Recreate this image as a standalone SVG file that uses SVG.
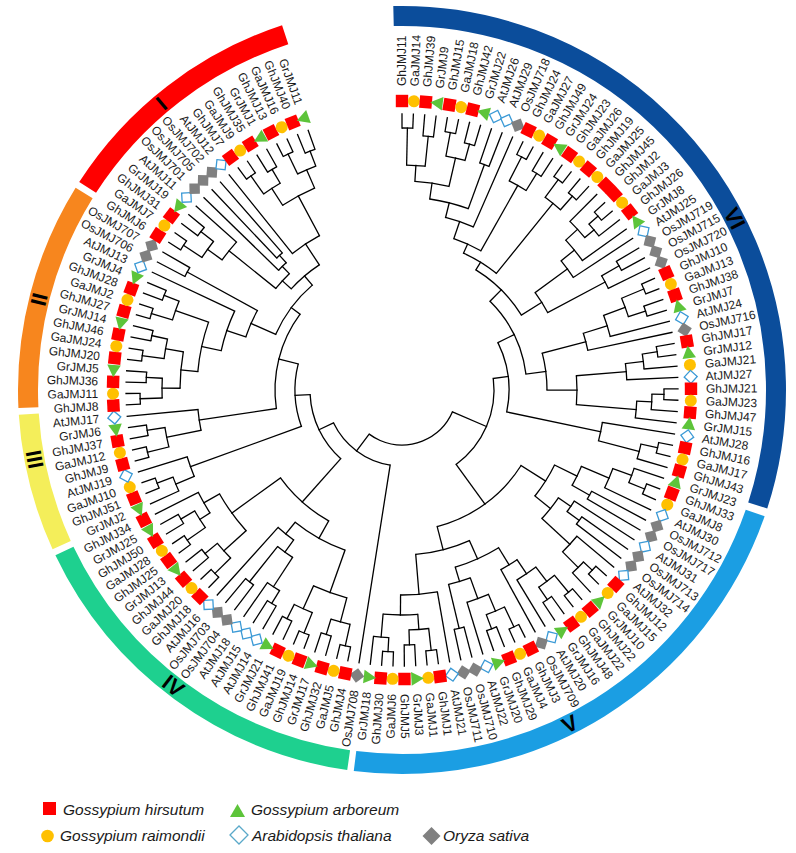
<svg xmlns="http://www.w3.org/2000/svg" width="796" height="853" viewBox="0 0 796 853">
<style>
text{font-family:"Liberation Sans",Arial,sans-serif;fill:#1a1a1a}
.lb text{font-size:12px;dominant-baseline:central}
.lb text.f{text-anchor:end}
.rn{font-size:22px;font-weight:bold;text-anchor:middle;dominant-baseline:central;fill:#000}
.lg{font-size:15.5px;font-style:italic}
.rg{fill:none;stroke-width:20}
.tr circle,.tr line{fill:none;stroke:#000;stroke-width:1.3}
.tr line{stroke-linecap:square}
</style>
<defs>
<rect id="S" x="-6.2" y="-6.2" width="12.4" height="12.4" fill="#ff0000"/>
<circle id="C" r="6" fill="#ffc000"/>
<polygon id="T" points="0,-7.5 6.8,5 -6.8,5" fill="#5dc43a"/>
<rect id="D" x="-4.6" y="-4.6" width="9.2" height="9.2" transform="rotate(45)" fill="#fff" stroke="#3b9ad6" stroke-width="1.3"/>
<rect id="G" x="-5.2" y="-5.2" width="10.4" height="10.4" transform="rotate(45)" fill="#808080"/>
</defs>
<rect width="796" height="853" fill="#fff"/>

<g id="clades" transform="translate(402,390)">
<g id="clade-VI"><circle class="rg" r="374" pathLength="360" stroke="#0b4d9b" stroke-dasharray="109.3 400" transform="rotate(-91.3)"/></g>
<g id="clade-V"><circle class="rg" r="374" pathLength="360" stroke="#1b9ee3" stroke-dasharray="78 400" transform="rotate(19.2)"/></g>
<g id="clade-IV"><circle class="rg" r="374" pathLength="360" stroke="#1ed08f" stroke-dasharray="56.3 400" transform="rotate(98.2)"/></g>
<g id="clade-III"><circle class="rg" r="374" pathLength="360" stroke="#f4ee5a" stroke-dasharray="20.8 400" transform="rotate(155.5)"/></g>
<g id="clade-II"><circle class="rg" r="374" pathLength="360" stroke="#f7861e" stroke-dasharray="34.5 400" transform="rotate(177.3)"/></g>
<g id="clade-I"><circle class="rg" r="374" pathLength="360" stroke="#ff0000" stroke-dasharray="39 400" transform="rotate(212.8)"/></g>
<text class="rn" transform="rotate(230) translate(374,0) rotate(90)">I</text>
<text class="rn" transform="rotate(194) translate(374,0) rotate(90)">II</text>
<text class="rn" transform="rotate(169.3) translate(374,0) rotate(-90)">III</text>
<text class="rn" transform="rotate(127.7) translate(374,0) rotate(-90)">IV</text>
<text class="rn" transform="rotate(63.3) translate(374,0) rotate(-90)">V</text>
<text class="rn" transform="rotate(-27.3) translate(374,0) rotate(90)">VI</text>
</g>

<g id="tree" class="tr" transform="translate(402,390)">
<circle r="262" pathLength="360" stroke-dasharray="2.36 999" transform="rotate(-90)"/><line x1="262" x2="276" transform="rotate(-90)"/><line x1="262" x2="276" transform="rotate(-87.64)"/>
<circle r="255" pathLength="360" stroke-dasharray="2.37 999" transform="rotate(-85.28)"/><line x1="255" x2="276" transform="rotate(-85.28)"/><line x1="255" x2="276" transform="rotate(-82.91)"/>
<circle r="225" pathLength="360" stroke-dasharray="4.72 999" transform="rotate(-88.82)"/><line x1="225" x2="262" transform="rotate(-88.82)"/><line x1="225" x2="255" transform="rotate(-84.1)"/>
<circle r="262" pathLength="360" stroke-dasharray="2.36 999" transform="rotate(-80.55)"/><line x1="262" x2="276" transform="rotate(-80.55)"/><line x1="262" x2="276" transform="rotate(-78.19)"/>
<circle r="255" pathLength="360" stroke-dasharray="2.36 999" transform="rotate(-75.83)"/><line x1="255" x2="276" transform="rotate(-75.83)"/><line x1="255" x2="276" transform="rotate(-73.47)"/>
<circle r="238" pathLength="360" stroke-dasharray="4.72 999" transform="rotate(-79.37)"/><line x1="238" x2="262" transform="rotate(-79.37)"/><line x1="238" x2="255" transform="rotate(-74.65)"/>
<circle r="209" pathLength="360" stroke-dasharray="9.45 999" transform="rotate(-86.46)"/><line x1="209" x2="225" transform="rotate(-86.46)"/><line x1="209" x2="238" transform="rotate(-77.01)"/>
<circle r="240" pathLength="360" stroke-dasharray="2.36 999" transform="rotate(-71.1)"/><line x1="240" x2="276" transform="rotate(-71.1)"/><line x1="240" x2="276" transform="rotate(-68.74)"/>
<circle r="193" pathLength="360" stroke-dasharray="11.82 999" transform="rotate(-81.74)"/><line x1="193" x2="209" transform="rotate(-81.74)"/><line x1="193" x2="240" transform="rotate(-69.92)"/>
<circle r="178" pathLength="360" stroke-dasharray="9.45 999" transform="rotate(-75.83)"/><line x1="178" x2="193" transform="rotate(-75.83)"/><line x1="178" x2="276" transform="rotate(-66.38)"/>
<circle r="262" pathLength="360" stroke-dasharray="2.36 999" transform="rotate(-64.02)"/><line x1="262" x2="276" transform="rotate(-64.02)"/><line x1="262" x2="276" transform="rotate(-61.66)"/>
<circle r="255" pathLength="360" stroke-dasharray="2.36 999" transform="rotate(-59.29)"/><line x1="255" x2="276" transform="rotate(-59.29)"/><line x1="255" x2="276" transform="rotate(-56.93)"/>
<circle r="235" pathLength="360" stroke-dasharray="4.73 999" transform="rotate(-62.84)"/><line x1="235" x2="262" transform="rotate(-62.84)"/><line x1="235" x2="255" transform="rotate(-58.11)"/>
<circle r="160" pathLength="360" stroke-dasharray="10.63 999" transform="rotate(-71.11)"/><line x1="160" x2="178" transform="rotate(-71.11)"/><line x1="160" x2="235" transform="rotate(-60.48)"/>
<circle r="262" pathLength="360" stroke-dasharray="2.36 999" transform="rotate(-54.57)"/><line x1="262" x2="276" transform="rotate(-54.57)"/><line x1="262" x2="276" transform="rotate(-52.21)"/>
<circle r="258" pathLength="360" stroke-dasharray="2.37 999" transform="rotate(-49.85)"/><line x1="258" x2="276" transform="rotate(-49.85)"/><line x1="258" x2="276" transform="rotate(-47.48)"/>
<circle r="240" pathLength="360" stroke-dasharray="4.72 999" transform="rotate(-53.39)"/><line x1="240" x2="262" transform="rotate(-53.39)"/><line x1="240" x2="258" transform="rotate(-48.67)"/>
<circle r="150" pathLength="360" stroke-dasharray="14.77 999" transform="rotate(-65.8)"/><line x1="150" x2="160" transform="rotate(-65.8)"/><line x1="150" x2="240" transform="rotate(-51.03)"/>
<circle r="262" pathLength="360" stroke-dasharray="2.36 999" transform="rotate(-42.76)"/><line x1="262" x2="276" transform="rotate(-42.76)"/><line x1="262" x2="276" transform="rotate(-40.4)"/>
<circle r="250" pathLength="360" stroke-dasharray="3.54 999" transform="rotate(-41.58)"/><line x1="250" x2="262" transform="rotate(-41.58)"/><line x1="250" x2="276" transform="rotate(-38.04)"/>
<circle r="238" pathLength="360" stroke-dasharray="5.31 999" transform="rotate(-45.12)"/><line x1="238" x2="276" transform="rotate(-45.12)"/><line x1="238" x2="250" transform="rotate(-39.81)"/>
<circle r="222" pathLength="360" stroke-dasharray="6.8 999" transform="rotate(-42.47)"/><line x1="222" x2="238" transform="rotate(-42.47)"/><line x1="222" x2="276" transform="rotate(-35.67)"/>
<circle r="205" pathLength="360" stroke-dasharray="5.76 999" transform="rotate(-39.07)"/><line x1="205" x2="222" transform="rotate(-39.07)"/><line x1="205" x2="276" transform="rotate(-33.31)"/>
<circle r="250" pathLength="360" stroke-dasharray="2.36 999" transform="rotate(-30.95)"/><line x1="250" x2="276" transform="rotate(-30.95)"/><line x1="250" x2="276" transform="rotate(-28.59)"/>
<circle r="230" pathLength="360" stroke-dasharray="3.54 999" transform="rotate(-29.77)"/><line x1="230" x2="250" transform="rotate(-29.77)"/><line x1="230" x2="276" transform="rotate(-26.23)"/>
<circle r="165" pathLength="360" stroke-dasharray="8.19 999" transform="rotate(-36.19)"/><line x1="165" x2="205" transform="rotate(-36.19)"/><line x1="165" x2="230" transform="rotate(-28)"/>
<circle r="141" pathLength="360" stroke-dasharray="26.3 999" transform="rotate(-58.4)"/><line x1="141" x2="150" transform="rotate(-58.4)"/><line x1="141" x2="165" transform="rotate(-32.1)"/>
<circle r="262" pathLength="360" stroke-dasharray="2.36 999" transform="rotate(-23.86)"/><line x1="262" x2="276" transform="rotate(-23.86)"/><line x1="262" x2="276" transform="rotate(-21.5)"/>
<circle r="256" pathLength="360" stroke-dasharray="2.36 999" transform="rotate(-19.14)"/><line x1="256" x2="276" transform="rotate(-19.14)"/><line x1="256" x2="276" transform="rotate(-16.78)"/>
<circle r="238" pathLength="360" stroke-dasharray="4.72 999" transform="rotate(-22.68)"/><line x1="238" x2="262" transform="rotate(-22.68)"/><line x1="238" x2="256" transform="rotate(-17.96)"/>
<circle r="215" pathLength="360" stroke-dasharray="5.9 999" transform="rotate(-20.32)"/><line x1="215" x2="238" transform="rotate(-20.32)"/><line x1="215" x2="276" transform="rotate(-14.42)"/>
<circle r="190" pathLength="360" stroke-dasharray="5.32 999" transform="rotate(-17.37)"/><line x1="190" x2="215" transform="rotate(-17.37)"/><line x1="190" x2="276" transform="rotate(-12.05)"/>
<circle r="258" pathLength="360" stroke-dasharray="2.36 999" transform="rotate(-9.69)"/><line x1="258" x2="276" transform="rotate(-9.69)"/><line x1="258" x2="276" transform="rotate(-7.33)"/>
<circle r="243" pathLength="360" stroke-dasharray="3.54 999" transform="rotate(-8.51)"/><line x1="243" x2="258" transform="rotate(-8.51)"/><line x1="243" x2="276" transform="rotate(-4.97)"/>
<circle r="225" pathLength="360" stroke-dasharray="4.13 999" transform="rotate(-6.74)"/><line x1="225" x2="243" transform="rotate(-6.74)"/><line x1="225" x2="276" transform="rotate(-2.61)"/>
<circle r="262" pathLength="360" stroke-dasharray="2.36 999" transform="rotate(-0.24)"/><line x1="262" x2="276" transform="rotate(-0.24)"/><line x1="262" x2="276" transform="rotate(2.12)"/>
<circle r="250" pathLength="360" stroke-dasharray="3.54 999" transform="rotate(0.94)"/><line x1="250" x2="262" transform="rotate(0.94)"/><line x1="250" x2="276" transform="rotate(4.48)"/>
<circle r="235" pathLength="360" stroke-dasharray="4.13 999" transform="rotate(2.71)"/><line x1="235" x2="250" transform="rotate(2.71)"/><line x1="235" x2="276" transform="rotate(6.84)"/>
<circle r="175" pathLength="360" stroke-dasharray="9.46 999" transform="rotate(-4.68)"/><line x1="175" x2="225" transform="rotate(-4.68)"/><line x1="175" x2="235" transform="rotate(4.78)"/>
<circle r="145" pathLength="360" stroke-dasharray="14.76 999" transform="rotate(-14.71)"/><line x1="145" x2="190" transform="rotate(-14.71)"/><line x1="145" x2="175" transform="rotate(0.05)"/>
<circle r="125" pathLength="360" stroke-dasharray="37.92 999" transform="rotate(-45.25)"/><line x1="125" x2="141" transform="rotate(-45.25)"/><line x1="125" x2="145" transform="rotate(-7.33)"/>
<circle r="262" pathLength="360" stroke-dasharray="2.36 999" transform="rotate(11.57)"/><line x1="262" x2="276" transform="rotate(11.57)"/><line x1="262" x2="276" transform="rotate(13.93)"/>
<circle r="245" pathLength="360" stroke-dasharray="3.54 999" transform="rotate(12.75)"/><line x1="245" x2="262" transform="rotate(12.75)"/><line x1="245" x2="276" transform="rotate(16.29)"/>
<circle r="203" pathLength="360" stroke-dasharray="5.32 999" transform="rotate(9.2)"/><line x1="203" x2="276" transform="rotate(9.2)"/><line x1="203" x2="245" transform="rotate(14.52)"/>
<circle r="107" pathLength="360" stroke-dasharray="38.15 999" transform="rotate(-26.29)"/><line x1="107" x2="125" transform="rotate(-26.29)"/><line x1="107" x2="203" transform="rotate(11.86)"/>

<circle r="262" pathLength="360" stroke-dasharray="2.37 999" transform="rotate(21.01)"/><line x1="262" x2="276" transform="rotate(21.01)"/><line x1="262" x2="276" transform="rotate(23.38)"/>
<circle r="245" pathLength="360" stroke-dasharray="3.55 999" transform="rotate(18.65)"/><line x1="245" x2="276" transform="rotate(18.65)"/><line x1="245" x2="262" transform="rotate(22.2)"/>
<circle r="225" pathLength="360" stroke-dasharray="5.32 999" transform="rotate(20.42)"/><line x1="225" x2="245" transform="rotate(20.42)"/><line x1="225" x2="276" transform="rotate(25.74)"/>
<circle r="215" pathLength="360" stroke-dasharray="2.36 999" transform="rotate(28.1)"/><line x1="215" x2="276" transform="rotate(28.1)"/><line x1="215" x2="276" transform="rotate(30.46)"/>
<circle r="195" pathLength="360" stroke-dasharray="6.2 999" transform="rotate(23.08)"/><line x1="195" x2="225" transform="rotate(23.08)"/><line x1="195" x2="215" transform="rotate(29.28)"/>
<circle r="220" pathLength="360" stroke-dasharray="2.36 999" transform="rotate(35.19)"/><line x1="220" x2="276" transform="rotate(35.19)"/><line x1="220" x2="276" transform="rotate(37.55)"/>
<circle r="205" pathLength="360" stroke-dasharray="3.55 999" transform="rotate(32.82)"/><line x1="205" x2="276" transform="rotate(32.82)"/><line x1="205" x2="220" transform="rotate(36.37)"/>
<circle r="262" pathLength="360" stroke-dasharray="2.36 999" transform="rotate(42.27)"/><line x1="262" x2="276" transform="rotate(42.27)"/><line x1="262" x2="276" transform="rotate(44.63)"/>
<circle r="250" pathLength="360" stroke-dasharray="3.55 999" transform="rotate(43.45)"/><line x1="250" x2="262" transform="rotate(43.45)"/><line x1="250" x2="276" transform="rotate(47)"/>
<circle r="228" pathLength="360" stroke-dasharray="5.31 999" transform="rotate(39.91)"/><line x1="228" x2="276" transform="rotate(39.91)"/><line x1="228" x2="250" transform="rotate(45.22)"/>
<circle r="190" pathLength="360" stroke-dasharray="7.97 999" transform="rotate(34.6)"/><line x1="190" x2="205" transform="rotate(34.6)"/><line x1="190" x2="228" transform="rotate(42.57)"/>
<circle r="170" pathLength="360" stroke-dasharray="12.4 999" transform="rotate(26.18)"/><line x1="170" x2="195" transform="rotate(26.18)"/><line x1="170" x2="190" transform="rotate(38.58)"/>
<circle r="262" pathLength="360" stroke-dasharray="2.36 999" transform="rotate(49.36)"/><line x1="262" x2="276" transform="rotate(49.36)"/><line x1="262" x2="276" transform="rotate(51.72)"/>
<circle r="255" pathLength="360" stroke-dasharray="2.36 999" transform="rotate(54.08)"/><line x1="255" x2="276" transform="rotate(54.08)"/><line x1="255" x2="276" transform="rotate(56.44)"/>
<circle r="240" pathLength="360" stroke-dasharray="4.72 999" transform="rotate(50.54)"/><line x1="240" x2="262" transform="rotate(50.54)"/><line x1="240" x2="255" transform="rotate(55.26)"/>
<circle r="222" pathLength="360" stroke-dasharray="5.91 999" transform="rotate(52.9)"/><line x1="222" x2="240" transform="rotate(52.9)"/><line x1="222" x2="276" transform="rotate(58.81)"/>
<circle r="205" pathLength="360" stroke-dasharray="5.31 999" transform="rotate(55.86)"/><line x1="205" x2="222" transform="rotate(55.86)"/><line x1="205" x2="276" transform="rotate(61.17)"/>
<circle r="262" pathLength="360" stroke-dasharray="2.36 999" transform="rotate(63.53)"/><line x1="262" x2="276" transform="rotate(63.53)"/><line x1="262" x2="276" transform="rotate(65.89)"/>
<circle r="255" pathLength="360" stroke-dasharray="2.37 999" transform="rotate(68.25)"/><line x1="255" x2="276" transform="rotate(68.25)"/><line x1="255" x2="276" transform="rotate(70.62)"/>
<circle r="240" pathLength="360" stroke-dasharray="4.73 999" transform="rotate(64.71)"/><line x1="240" x2="262" transform="rotate(64.71)"/><line x1="240" x2="255" transform="rotate(69.44)"/>
<circle r="222" pathLength="360" stroke-dasharray="5.91 999" transform="rotate(67.07)"/><line x1="222" x2="240" transform="rotate(67.07)"/><line x1="222" x2="276" transform="rotate(72.98)"/>
<circle r="245" pathLength="360" stroke-dasharray="2.36 999" transform="rotate(75.34)"/><line x1="245" x2="276" transform="rotate(75.34)"/><line x1="245" x2="276" transform="rotate(77.7)"/>
<circle r="200" pathLength="360" stroke-dasharray="6.49 999" transform="rotate(70.03)"/><line x1="200" x2="222" transform="rotate(70.03)"/><line x1="200" x2="245" transform="rotate(76.52)"/>
<circle r="185" pathLength="360" stroke-dasharray="14.76 999" transform="rotate(58.51)"/><line x1="185" x2="205" transform="rotate(58.51)"/><line x1="185" x2="200" transform="rotate(73.27)"/>
<circle r="262" pathLength="360" stroke-dasharray="2.36 999" transform="rotate(82.43)"/><line x1="262" x2="276" transform="rotate(82.43)"/><line x1="262" x2="276" transform="rotate(84.79)"/>
<circle r="255" pathLength="360" stroke-dasharray="2.36 999" transform="rotate(87.15)"/><line x1="255" x2="276" transform="rotate(87.15)"/><line x1="255" x2="276" transform="rotate(89.51)"/>
<circle r="240" pathLength="360" stroke-dasharray="4.72 999" transform="rotate(83.61)"/><line x1="240" x2="262" transform="rotate(83.61)"/><line x1="240" x2="255" transform="rotate(88.33)"/>
<circle r="262" pathLength="360" stroke-dasharray="2.37 999" transform="rotate(91.87)"/><line x1="262" x2="276" transform="rotate(91.87)"/><line x1="262" x2="276" transform="rotate(94.24)"/>
<circle r="248" pathLength="360" stroke-dasharray="3.54 999" transform="rotate(93.06)"/><line x1="248" x2="262" transform="rotate(93.06)"/><line x1="248" x2="276" transform="rotate(96.6)"/>
<circle r="225" pathLength="360" stroke-dasharray="8.86 999" transform="rotate(85.97)"/><line x1="225" x2="240" transform="rotate(85.97)"/><line x1="225" x2="248" transform="rotate(94.83)"/>
<circle r="205" pathLength="360" stroke-dasharray="10.34 999" transform="rotate(80.06)"/><line x1="205" x2="276" transform="rotate(80.06)"/><line x1="205" x2="225" transform="rotate(90.4)"/>
<circle r="165" pathLength="360" stroke-dasharray="19.34 999" transform="rotate(65.89)"/><line x1="165" x2="185" transform="rotate(65.89)"/><line x1="165" x2="205" transform="rotate(85.23)"/>
<circle r="141" pathLength="360" stroke-dasharray="43.18 999" transform="rotate(32.38)"/><line x1="141" x2="170" transform="rotate(32.38)"/><line x1="141" x2="165" transform="rotate(75.56)"/>
<circle r="92" pathLength="360" stroke-dasharray="61.19 999" transform="rotate(-7.22)"/><line x1="92" x2="107" transform="rotate(-7.22)"/><line x1="92" x2="141" transform="rotate(53.97)"/>

<circle r="262" pathLength="360" stroke-dasharray="2.36 999" transform="rotate(101.32)"/><line x1="262" x2="276" transform="rotate(101.32)"/><line x1="262" x2="276" transform="rotate(103.68)"/>
<circle r="256" pathLength="360" stroke-dasharray="2.36 999" transform="rotate(106.05)"/><line x1="256" x2="276" transform="rotate(106.05)"/><line x1="256" x2="276" transform="rotate(108.41)"/>
<circle r="240" pathLength="360" stroke-dasharray="4.73 999" transform="rotate(102.5)"/><line x1="240" x2="262" transform="rotate(102.5)"/><line x1="240" x2="256" transform="rotate(107.23)"/>
<circle r="262" pathLength="360" stroke-dasharray="2.36 999" transform="rotate(110.77)"/><line x1="262" x2="276" transform="rotate(110.77)"/><line x1="262" x2="276" transform="rotate(113.13)"/>
<circle r="256" pathLength="360" stroke-dasharray="2.37 999" transform="rotate(115.49)"/><line x1="256" x2="276" transform="rotate(115.49)"/><line x1="256" x2="276" transform="rotate(117.86)"/>
<circle r="240" pathLength="360" stroke-dasharray="4.73 999" transform="rotate(111.95)"/><line x1="240" x2="262" transform="rotate(111.95)"/><line x1="240" x2="256" transform="rotate(116.68)"/>
<circle r="215" pathLength="360" stroke-dasharray="9.44 999" transform="rotate(104.87)"/><line x1="215" x2="240" transform="rotate(104.87)"/><line x1="215" x2="240" transform="rotate(114.31)"/>
<circle r="250" pathLength="360" stroke-dasharray="2.36 999" transform="rotate(120.22)"/><line x1="250" x2="276" transform="rotate(120.22)"/><line x1="250" x2="276" transform="rotate(122.58)"/>
<circle r="235" pathLength="360" stroke-dasharray="3.54 999" transform="rotate(121.4)"/><line x1="235" x2="250" transform="rotate(121.4)"/><line x1="235" x2="276" transform="rotate(124.94)"/>
<circle r="245" pathLength="360" stroke-dasharray="2.37 999" transform="rotate(127.3)"/><line x1="245" x2="276" transform="rotate(127.3)"/><line x1="245" x2="276" transform="rotate(129.67)"/>
<circle r="200" pathLength="360" stroke-dasharray="5.32 999" transform="rotate(123.17)"/><line x1="200" x2="235" transform="rotate(123.17)"/><line x1="200" x2="245" transform="rotate(128.49)"/>
<circle r="185" pathLength="360" stroke-dasharray="6.2 999" transform="rotate(125.83)"/><line x1="185" x2="200" transform="rotate(125.83)"/><line x1="185" x2="276" transform="rotate(132.03)"/>
<circle r="170" pathLength="360" stroke-dasharray="19.34 999" transform="rotate(109.59)"/><line x1="170" x2="215" transform="rotate(109.59)"/><line x1="170" x2="185" transform="rotate(128.93)"/>
<circle r="262" pathLength="360" stroke-dasharray="2.36 999" transform="rotate(134.39)"/><line x1="262" x2="276" transform="rotate(134.39)"/><line x1="262" x2="276" transform="rotate(136.75)"/>
<circle r="256" pathLength="360" stroke-dasharray="2.37 999" transform="rotate(139.11)"/><line x1="256" x2="276" transform="rotate(139.11)"/><line x1="256" x2="276" transform="rotate(141.48)"/>
<circle r="240" pathLength="360" stroke-dasharray="4.73 999" transform="rotate(135.57)"/><line x1="240" x2="262" transform="rotate(135.57)"/><line x1="240" x2="256" transform="rotate(140.3)"/>
<circle r="262" pathLength="360" stroke-dasharray="2.36 999" transform="rotate(143.84)"/><line x1="262" x2="276" transform="rotate(143.84)"/><line x1="262" x2="276" transform="rotate(146.2)"/>
<circle r="256" pathLength="360" stroke-dasharray="2.36 999" transform="rotate(148.56)"/><line x1="256" x2="276" transform="rotate(148.56)"/><line x1="256" x2="276" transform="rotate(150.92)"/>
<circle r="240" pathLength="360" stroke-dasharray="4.72 999" transform="rotate(145.02)"/><line x1="240" x2="262" transform="rotate(145.02)"/><line x1="240" x2="256" transform="rotate(149.74)"/>
<circle r="228" pathLength="360" stroke-dasharray="5.91 999" transform="rotate(147.38)"/><line x1="228" x2="240" transform="rotate(147.38)"/><line x1="228" x2="276" transform="rotate(153.29)"/>
<circle r="210" pathLength="360" stroke-dasharray="12.4 999" transform="rotate(137.93)"/><line x1="210" x2="240" transform="rotate(137.93)"/><line x1="210" x2="228" transform="rotate(150.33)"/>
<circle r="150" pathLength="360" stroke-dasharray="24.87 999" transform="rotate(119.26)"/><line x1="150" x2="170" transform="rotate(119.26)"/><line x1="150" x2="210" transform="rotate(144.13)"/>
<circle r="262" pathLength="360" stroke-dasharray="2.36 999" transform="rotate(158.01)"/><line x1="262" x2="276" transform="rotate(158.01)"/><line x1="262" x2="276" transform="rotate(160.37)"/>
<circle r="245" pathLength="360" stroke-dasharray="3.54 999" transform="rotate(155.65)"/><line x1="245" x2="276" transform="rotate(155.65)"/><line x1="245" x2="262" transform="rotate(159.19)"/>
<circle r="225" pathLength="360" stroke-dasharray="5.31 999" transform="rotate(157.42)"/><line x1="225" x2="245" transform="rotate(157.42)"/><line x1="225" x2="276" transform="rotate(162.73)"/>
<circle r="262" pathLength="360" stroke-dasharray="2.36 999" transform="rotate(165.1)"/><line x1="262" x2="276" transform="rotate(165.1)"/><line x1="262" x2="276" transform="rotate(167.46)"/>
<circle r="258" pathLength="360" stroke-dasharray="2.36 999" transform="rotate(169.82)"/><line x1="258" x2="276" transform="rotate(169.82)"/><line x1="258" x2="276" transform="rotate(172.18)"/>
<circle r="240" pathLength="360" stroke-dasharray="4.72 999" transform="rotate(166.28)"/><line x1="240" x2="262" transform="rotate(166.28)"/><line x1="240" x2="258" transform="rotate(171)"/>
<circle r="205" pathLength="360" stroke-dasharray="5.9 999" transform="rotate(168.64)"/><line x1="205" x2="240" transform="rotate(168.64)"/><line x1="205" x2="276" transform="rotate(174.54)"/>
<circle r="262" pathLength="360" stroke-dasharray="2.36 999" transform="rotate(176.91)"/><line x1="262" x2="276" transform="rotate(176.91)"/><line x1="262" x2="276" transform="rotate(179.27)"/>
<circle r="256" pathLength="360" stroke-dasharray="2.36 999" transform="rotate(181.63)"/><line x1="256" x2="276" transform="rotate(181.63)"/><line x1="256" x2="276" transform="rotate(183.99)"/>
<circle r="240" pathLength="360" stroke-dasharray="4.72 999" transform="rotate(178.09)"/><line x1="240" x2="262" transform="rotate(178.09)"/><line x1="240" x2="256" transform="rotate(182.81)"/>
<circle r="262" pathLength="360" stroke-dasharray="2.37 999" transform="rotate(186.35)"/><line x1="262" x2="276" transform="rotate(186.35)"/><line x1="262" x2="276" transform="rotate(188.72)"/>
<circle r="256" pathLength="360" stroke-dasharray="2.36 999" transform="rotate(191.08)"/><line x1="256" x2="276" transform="rotate(191.08)"/><line x1="256" x2="276" transform="rotate(193.44)"/>
<circle r="240" pathLength="360" stroke-dasharray="4.72 999" transform="rotate(187.54)"/><line x1="240" x2="262" transform="rotate(187.54)"/><line x1="240" x2="256" transform="rotate(192.26)"/>
<circle r="222" pathLength="360" stroke-dasharray="9.45 999" transform="rotate(180.45)"/><line x1="222" x2="240" transform="rotate(180.45)"/><line x1="222" x2="240" transform="rotate(189.9)"/>
<circle r="262" pathLength="360" stroke-dasharray="2.36 999" transform="rotate(195.8)"/><line x1="262" x2="276" transform="rotate(195.8)"/><line x1="262" x2="276" transform="rotate(198.16)"/>
<circle r="256" pathLength="360" stroke-dasharray="2.36 999" transform="rotate(200.53)"/><line x1="256" x2="276" transform="rotate(200.53)"/><line x1="256" x2="276" transform="rotate(202.89)"/>
<circle r="240" pathLength="360" stroke-dasharray="4.73 999" transform="rotate(196.98)"/><line x1="240" x2="262" transform="rotate(196.98)"/><line x1="240" x2="256" transform="rotate(201.71)"/>
<circle r="205" pathLength="360" stroke-dasharray="14.17 999" transform="rotate(185.18)"/><line x1="205" x2="222" transform="rotate(185.18)"/><line x1="205" x2="240" transform="rotate(199.35)"/>
<circle r="185" pathLength="360" stroke-dasharray="12.98 999" transform="rotate(192.27)"/><line x1="185" x2="205" transform="rotate(192.27)"/><line x1="185" x2="276" transform="rotate(205.25)"/>
<circle r="245" pathLength="360" stroke-dasharray="2.36 999" transform="rotate(207.61)"/><line x1="245" x2="276" transform="rotate(207.61)"/><line x1="245" x2="276" transform="rotate(209.97)"/>
<circle r="165" pathLength="360" stroke-dasharray="10.03 999" transform="rotate(198.76)"/><line x1="165" x2="185" transform="rotate(198.76)"/><line x1="165" x2="245" transform="rotate(208.79)"/>
<circle r="262" pathLength="360" stroke-dasharray="2.36 999" transform="rotate(212.34)"/><line x1="262" x2="276" transform="rotate(212.34)"/><line x1="262" x2="276" transform="rotate(214.7)"/>
<circle r="256" pathLength="360" stroke-dasharray="2.36 999" transform="rotate(217.06)"/><line x1="256" x2="276" transform="rotate(217.06)"/><line x1="256" x2="276" transform="rotate(219.42)"/>
<circle r="240" pathLength="360" stroke-dasharray="4.72 999" transform="rotate(213.52)"/><line x1="240" x2="262" transform="rotate(213.52)"/><line x1="240" x2="256" transform="rotate(218.24)"/>
<circle r="222" pathLength="360" stroke-dasharray="5.9 999" transform="rotate(215.88)"/><line x1="222" x2="240" transform="rotate(215.88)"/><line x1="222" x2="276" transform="rotate(221.78)"/>
<circle r="182" pathLength="360" stroke-dasharray="2.36 999" transform="rotate(226.51)"/><line x1="182" x2="276" transform="rotate(226.51)"/><line x1="182" x2="276" transform="rotate(228.87)"/>
<circle r="172" pathLength="360" stroke-dasharray="3.54 999" transform="rotate(224.15)"/><line x1="172" x2="276" transform="rotate(224.15)"/><line x1="172" x2="182" transform="rotate(227.69)"/>
<circle r="162" pathLength="360" stroke-dasharray="7.09 999" transform="rotate(218.83)"/><line x1="162" x2="222" transform="rotate(218.83)"/><line x1="162" x2="172" transform="rotate(225.92)"/>
<circle r="262" pathLength="360" stroke-dasharray="2.37 999" transform="rotate(233.59)"/><line x1="262" x2="276" transform="rotate(233.59)"/><line x1="262" x2="276" transform="rotate(235.96)"/>
<circle r="256" pathLength="360" stroke-dasharray="2.36 999" transform="rotate(238.32)"/><line x1="256" x2="276" transform="rotate(238.32)"/><line x1="256" x2="276" transform="rotate(240.68)"/>
<circle r="240" pathLength="360" stroke-dasharray="4.72 999" transform="rotate(234.78)"/><line x1="240" x2="262" transform="rotate(234.78)"/><line x1="240" x2="256" transform="rotate(239.5)"/>
<circle r="262" pathLength="360" stroke-dasharray="2.36 999" transform="rotate(243.04)"/><line x1="262" x2="276" transform="rotate(243.04)"/><line x1="262" x2="276" transform="rotate(245.4)"/>
<circle r="256" pathLength="360" stroke-dasharray="2.36 999" transform="rotate(247.77)"/><line x1="256" x2="276" transform="rotate(247.77)"/><line x1="256" x2="276" transform="rotate(250.13)"/>
<circle r="240" pathLength="360" stroke-dasharray="4.73 999" transform="rotate(244.22)"/><line x1="240" x2="262" transform="rotate(244.22)"/><line x1="240" x2="256" transform="rotate(248.95)"/>
<circle r="220" pathLength="360" stroke-dasharray="9.45 999" transform="rotate(237.14)"/><line x1="220" x2="240" transform="rotate(237.14)"/><line x1="220" x2="240" transform="rotate(246.59)"/>
<circle r="175" pathLength="360" stroke-dasharray="10.64 999" transform="rotate(231.23)"/><line x1="175" x2="276" transform="rotate(231.23)"/><line x1="175" x2="220" transform="rotate(241.87)"/>
<circle r="150" pathLength="360" stroke-dasharray="14.17 999" transform="rotate(222.38)"/><line x1="150" x2="162" transform="rotate(222.38)"/><line x1="150" x2="175" transform="rotate(236.55)"/>
<circle r="138" pathLength="360" stroke-dasharray="25.69 999" transform="rotate(203.78)"/><line x1="138" x2="165" transform="rotate(203.78)"/><line x1="138" x2="150" transform="rotate(229.47)"/>
<circle r="127" pathLength="360" stroke-dasharray="45.04 999" transform="rotate(171.59)"/><line x1="127" x2="205" transform="rotate(171.59)"/><line x1="127" x2="138" transform="rotate(216.63)"/>
<circle r="107" pathLength="360" stroke-dasharray="34.03 999" transform="rotate(160.08)"/><line x1="107" x2="225" transform="rotate(160.08)"/><line x1="107" x2="127" transform="rotate(194.11)"/>
<circle r="92" pathLength="360" stroke-dasharray="45.4 999" transform="rotate(131.7)"/><line x1="92" x2="150" transform="rotate(131.7)"/><line x1="92" x2="107" transform="rotate(177.1)"/>
<circle r="76" pathLength="360" stroke-dasharray="55.44 999" transform="rotate(98.96)"/><line x1="76" x2="276" transform="rotate(98.96)"/><line x1="76" x2="92" transform="rotate(154.4)"/>
<circle r="55" pathLength="360" stroke-dasharray="103.3 999" transform="rotate(23.38)"/><line x1="55" x2="92" transform="rotate(23.38)"/><line x1="55" x2="76" transform="rotate(126.68)"/>
</g>

<g id="leaves" class="lb" transform="translate(402,390)">
<g id="GhJMJ11" transform="rotate(-90)"><use href="#S" x="289"/><text x="304">GhJMJ11</text></g>
<g id="GaJMJ14" transform="rotate(-87.64)"><use href="#C" x="289"/><text x="304">GaJMJ14</text></g>
<g id="GhJMJ39" transform="rotate(-85.28)"><use href="#S" x="289"/><text x="304">GhJMJ39</text></g>
<g id="GrJMJ9" transform="rotate(-82.91)"><use href="#T" x="289"/><text x="304">GrJMJ9</text></g>
<g id="GhJMJ15" transform="rotate(-80.55)"><use href="#S" x="289"/><text x="304">GhJMJ15</text></g>
<g id="GaJMJ18" transform="rotate(-78.19)"><use href="#C" x="289"/><text x="304">GaJMJ18</text></g>
<g id="GhJMJ42" transform="rotate(-75.83)"><use href="#S" x="289"/><text x="304">GhJMJ42</text></g>
<g id="GrJMJ22" transform="rotate(-73.47)"><use href="#T" x="289"/><text x="304">GrJMJ22</text></g>
<g id="AtJMJ26" transform="rotate(-71.1)"><use href="#D" x="289"/><text x="304">AtJMJ26</text></g>
<g id="AtJMJ29" transform="rotate(-68.74)"><use href="#D" x="289"/><text x="304">AtJMJ29</text></g>
<g id="OsJMJ718" transform="rotate(-66.38)"><use href="#G" x="289"/><text x="304">OsJMJ718</text></g>
<g id="GhJMJ24" transform="rotate(-64.02)"><use href="#S" x="289"/><text x="304">GhJMJ24</text></g>
<g id="GaJMJ27" transform="rotate(-61.66)"><use href="#C" x="289"/><text x="304">GaJMJ27</text></g>
<g id="GhJMJ49" transform="rotate(-59.29)"><use href="#S" x="289"/><text x="304">GhJMJ49</text></g>
<g id="GrJMJ24" transform="rotate(-56.93)"><use href="#T" x="289"/><text x="304">GrJMJ24</text></g>
<g id="GhJMJ23" transform="rotate(-54.57)"><use href="#S" x="289"/><text x="304">GhJMJ23</text></g>
<g id="GaJMJ26" transform="rotate(-52.21)"><use href="#C" x="289"/><text x="304">GaJMJ26</text></g>
<g id="GhJMJ19" transform="rotate(-49.85)"><use href="#S" x="289"/><text x="304">GhJMJ19</text></g>
<g id="GaJMJ25" transform="rotate(-47.48)"><use href="#C" x="289"/><text x="304">GaJMJ25</text></g>
<g id="GhJMJ45" transform="rotate(-45.12)"><use href="#S" x="289"/><text x="304">GhJMJ45</text></g>
<g id="GhJMJ2" transform="rotate(-42.76)"><use href="#S" x="289"/><text x="304">GhJMJ2</text></g>
<g id="GaJMJ3" transform="rotate(-40.4)"><use href="#C" x="289"/><text x="304">GaJMJ3</text></g>
<g id="GhJMJ26" transform="rotate(-38.04)"><use href="#S" x="289"/><text x="304">GhJMJ26</text></g>
<g id="GrJMJ8" transform="rotate(-35.67)"><use href="#T" x="289"/><text x="304">GrJMJ8</text></g>
<g id="AtJMJ25" transform="rotate(-33.31)"><use href="#D" x="289"/><text x="304">AtJMJ25</text></g>
<g id="OsJMJ719" transform="rotate(-30.95)"><use href="#G" x="289"/><text x="304">OsJMJ719</text></g>
<g id="OsJMJ715" transform="rotate(-28.59)"><use href="#G" x="289"/><text x="304">OsJMJ715</text></g>
<g id="OsJMJ720" transform="rotate(-26.23)"><use href="#G" x="289"/><text x="304">OsJMJ720</text></g>
<g id="GhJMJ10" transform="rotate(-23.86)"><use href="#S" x="289"/><text x="304">GhJMJ10</text></g>
<g id="GaJMJ13" transform="rotate(-21.5)"><use href="#C" x="289"/><text x="304">GaJMJ13</text></g>
<g id="GhJMJ38" transform="rotate(-19.14)"><use href="#S" x="289"/><text x="304">GhJMJ38</text></g>
<g id="GrJMJ7" transform="rotate(-16.78)"><use href="#T" x="289"/><text x="304">GrJMJ7</text></g>
<g id="AtJMJ24" transform="rotate(-14.42)"><use href="#D" x="289"/><text x="304">AtJMJ24</text></g>
<g id="OsJMJ716" transform="rotate(-12.05)"><use href="#G" x="289"/><text x="304">OsJMJ716</text></g>
<g id="GhJMJ17" transform="rotate(-9.69)"><use href="#S" x="289"/><text x="304">GhJMJ17</text></g>
<g id="GrJMJ12" transform="rotate(-7.33)"><use href="#T" x="289"/><text x="304">GrJMJ12</text></g>
<g id="GaJMJ21" transform="rotate(-4.97)"><use href="#C" x="289"/><text x="304">GaJMJ21</text></g>
<g id="AtJMJ27" transform="rotate(-2.61)"><use href="#D" x="289"/><text x="304">AtJMJ27</text></g>
<g id="GhJMJ21" transform="rotate(-0.24)"><use href="#S" x="289"/><text x="304">GhJMJ21</text></g>
<g id="GaJMJ23" transform="rotate(2.12)"><use href="#C" x="289"/><text x="304">GaJMJ23</text></g>
<g id="GhJMJ47" transform="rotate(4.48)"><use href="#S" x="289"/><text x="304">GhJMJ47</text></g>
<g id="GrJMJ15" transform="rotate(6.84)"><use href="#T" x="289"/><text x="304">GrJMJ15</text></g>
<g id="AtJMJ28" transform="rotate(9.2)"><use href="#D" x="289"/><text x="304">AtJMJ28</text></g>
<g id="GhJMJ16" transform="rotate(11.57)"><use href="#S" x="289"/><text x="304">GhJMJ16</text></g>
<g id="GaJMJ17" transform="rotate(13.93)"><use href="#C" x="289"/><text x="304">GaJMJ17</text></g>
<g id="GhJMJ43" transform="rotate(16.29)"><use href="#S" x="289"/><text x="304">GhJMJ43</text></g>
<g id="GrJMJ23" transform="rotate(18.65)"><use href="#T" x="289"/><text x="304">GrJMJ23</text></g>
<g id="GhJMJ33" transform="rotate(21.01)"><use href="#S" x="289"/><text x="304">GhJMJ33</text></g>
<g id="GaJMJ8" transform="rotate(23.38)"><use href="#C" x="289"/><text x="304">GaJMJ8</text></g>
<g id="AtJMJ30" transform="rotate(25.74)"><use href="#D" x="289"/><text x="304">AtJMJ30</text></g>
<g id="OsJMJ712" transform="rotate(28.1)"><use href="#G" x="289"/><text x="304">OsJMJ712</text></g>
<g id="OsJMJ717" transform="rotate(30.46)"><use href="#G" x="289"/><text x="304">OsJMJ717</text></g>
<g id="AtJMJ31" transform="rotate(32.82)"><use href="#D" x="289"/><text x="304">AtJMJ31</text></g>
<g id="OsJMJ713" transform="rotate(35.19)"><use href="#G" x="289"/><text x="304">OsJMJ713</text></g>
<g id="OsJMJ714" transform="rotate(37.55)"><use href="#G" x="289"/><text x="304">OsJMJ714</text></g>
<g id="AtJMJ32" transform="rotate(39.91)"><use href="#D" x="289"/><text x="304">AtJMJ32</text></g>
<g id="GhJMJ12" transform="rotate(42.27)"><use href="#S" x="289"/><text x="304">GhJMJ12</text></g>
<g id="GaJMJ15" transform="rotate(44.63)"><use href="#C" x="289"/><text x="304">GaJMJ15</text></g>
<g id="GrJMJ10" transform="rotate(47)"><use href="#T" x="289"/><text x="304">GrJMJ10</text></g>
<g id="GhJMJ22" transform="rotate(49.36)"><use href="#S" x="289"/><text x="304">GhJMJ22</text></g>
<g id="GaJMJ22" transform="rotate(51.72)"><use href="#C" x="289"/><text x="304">GaJMJ22</text></g>
<g id="GhJMJ48" transform="rotate(54.08)"><use href="#S" x="289"/><text x="304">GhJMJ48</text></g>
<g id="GrJMJ16" transform="rotate(56.44)"><use href="#T" x="289"/><text x="304">GrJMJ16</text></g>
<g id="AtJMJ20" transform="rotate(58.81)"><use href="#D" x="289"/><text x="304">AtJMJ20</text></g>
<g id="OsJMJ709" transform="rotate(61.17)"><use href="#G" x="289"/><text x="304">OsJMJ709</text></g>
<g id="GhJMJ3" transform="rotate(63.53)"><use href="#S" x="289"/><text x="304">GhJMJ3</text></g>
<g id="GaJMJ4" transform="rotate(65.89)"><use href="#C" x="289"/><text x="304">GaJMJ4</text></g>
<g id="GhJMJ29" transform="rotate(68.25)"><use href="#S" x="289"/><text x="304">GhJMJ29</text></g>
<g id="GrJMJ20" transform="rotate(70.62)"><use href="#T" x="289"/><text x="304">GrJMJ20</text></g>
<g id="AtJMJ22" transform="rotate(72.98)"><use href="#D" x="289"/><text x="304">AtJMJ22</text></g>
<g id="OsJMJ710" transform="rotate(75.34)"><use href="#G" x="289"/><text x="304">OsJMJ710</text></g>
<g id="OsJMJ711" transform="rotate(77.7)"><use href="#G" x="289"/><text x="304">OsJMJ711</text></g>
<g id="AtJMJ21" transform="rotate(80.06)"><use href="#D" x="289"/><text x="304">AtJMJ21</text></g>
<g id="GhJMJ1" transform="rotate(82.43)"><use href="#S" x="289"/><text x="304">GhJMJ1</text></g>
<g id="GaJMJ1" transform="rotate(84.79)"><use href="#C" x="289"/><text x="304">GaJMJ1</text></g>
<g id="GrJMJ3" transform="rotate(87.15)"><use href="#T" x="289"/><text x="304">GrJMJ3</text></g>
<g id="GhJMJ5" transform="rotate(89.51)"><use href="#S" x="289"/><text x="304">GhJMJ5</text></g>
<g id="GaJMJ6" transform="rotate(91.87)"><use href="#C" x="289"/><text class="f" x="-304" transform="rotate(180)">GaJMJ6</text></g>
<g id="GhJMJ30" transform="rotate(94.24)"><use href="#S" x="289"/><text class="f" x="-304" transform="rotate(180)">GhJMJ30</text></g>
<g id="GrJMJ18" transform="rotate(96.6)"><use href="#T" x="289"/><text class="f" x="-304" transform="rotate(180)">GrJMJ18</text></g>
<g id="OsJMJ708" transform="rotate(98.96)"><use href="#G" x="289"/><text class="f" x="-304" transform="rotate(180)">OsJMJ708</text></g>
<g id="GhJMJ4" transform="rotate(101.32)"><use href="#S" x="289"/><text class="f" x="-304" transform="rotate(180)">GhJMJ4</text></g>
<g id="GaJMJ5" transform="rotate(103.68)"><use href="#C" x="289"/><text class="f" x="-304" transform="rotate(180)">GaJMJ5</text></g>
<g id="GhJMJ32" transform="rotate(106.05)"><use href="#S" x="289"/><text class="f" x="-304" transform="rotate(180)">GhJMJ32</text></g>
<g id="GrJMJ17" transform="rotate(108.41)"><use href="#T" x="289"/><text class="f" x="-304" transform="rotate(180)">GrJMJ17</text></g>
<g id="GhJMJ14" transform="rotate(110.77)"><use href="#S" x="289"/><text class="f" x="-304" transform="rotate(180)">GhJMJ14</text></g>
<g id="GaJMJ19" transform="rotate(113.13)"><use href="#C" x="289"/><text class="f" x="-304" transform="rotate(180)">GaJMJ19</text></g>
<g id="GhJMJ41" transform="rotate(115.49)"><use href="#S" x="289"/><text class="f" x="-304" transform="rotate(180)">GhJMJ41</text></g>
<g id="GrJMJ21" transform="rotate(117.86)"><use href="#T" x="289"/><text class="f" x="-304" transform="rotate(180)">GrJMJ21</text></g>
<g id="AtJMJ14" transform="rotate(120.22)"><use href="#D" x="289"/><text class="f" x="-304" transform="rotate(180)">AtJMJ14</text></g>
<g id="AtJMJ15" transform="rotate(122.58)"><use href="#D" x="289"/><text class="f" x="-304" transform="rotate(180)">AtJMJ15</text></g>
<g id="AtJMJ18" transform="rotate(124.94)"><use href="#D" x="289"/><text class="f" x="-304" transform="rotate(180)">AtJMJ18</text></g>
<g id="OsJMJ704" transform="rotate(127.3)"><use href="#G" x="289"/><text class="f" x="-304" transform="rotate(180)">OsJMJ704</text></g>
<g id="OsJMJ703" transform="rotate(129.67)"><use href="#G" x="289"/><text class="f" x="-304" transform="rotate(180)">OsJMJ703</text></g>
<g id="AtJMJ16" transform="rotate(132.03)"><use href="#D" x="289"/><text class="f" x="-304" transform="rotate(180)">AtJMJ16</text></g>
<g id="GhJMJ18" transform="rotate(134.39)"><use href="#S" x="289"/><text class="f" x="-304" transform="rotate(180)">GhJMJ18</text></g>
<g id="GaJMJ20" transform="rotate(136.75)"><use href="#C" x="289"/><text class="f" x="-304" transform="rotate(180)">GaJMJ20</text></g>
<g id="GhJMJ44" transform="rotate(139.11)"><use href="#S" x="289"/><text class="f" x="-304" transform="rotate(180)">GhJMJ44</text></g>
<g id="GrJMJ13" transform="rotate(141.48)"><use href="#T" x="289"/><text class="f" x="-304" transform="rotate(180)">GrJMJ13</text></g>
<g id="GhJMJ25" transform="rotate(143.84)"><use href="#S" x="289"/><text class="f" x="-304" transform="rotate(180)">GhJMJ25</text></g>
<g id="GaJMJ28" transform="rotate(146.2)"><use href="#C" x="289"/><text class="f" x="-304" transform="rotate(180)">GaJMJ28</text></g>
<g id="GhJMJ50" transform="rotate(148.56)"><use href="#S" x="289"/><text class="f" x="-304" transform="rotate(180)">GhJMJ50</text></g>
<g id="GrJMJ25" transform="rotate(150.92)"><use href="#T" x="289"/><text class="f" x="-304" transform="rotate(180)">GrJMJ25</text></g>
<g id="GhJMJ34" transform="rotate(153.29)"><use href="#S" x="289"/><text class="f" x="-304" transform="rotate(180)">GhJMJ34</text></g>
<g id="GrJMJ2" transform="rotate(155.65)"><use href="#T" x="289"/><text class="f" x="-304" transform="rotate(180)">GrJMJ2</text></g>
<g id="GhJMJ51" transform="rotate(158.01)"><use href="#S" x="289"/><text class="f" x="-304" transform="rotate(180)">GhJMJ51</text></g>
<g id="GaJMJ10" transform="rotate(160.37)"><use href="#C" x="289"/><text class="f" x="-304" transform="rotate(180)">GaJMJ10</text></g>
<g id="AtJMJ19" transform="rotate(162.73)"><use href="#D" x="289"/><text class="f" x="-304" transform="rotate(180)">AtJMJ19</text></g>
<g id="GhJMJ9" transform="rotate(165.1)"><use href="#S" x="289"/><text class="f" x="-304" transform="rotate(180)">GhJMJ9</text></g>
<g id="GaJMJ12" transform="rotate(167.46)"><use href="#C" x="289"/><text class="f" x="-304" transform="rotate(180)">GaJMJ12</text></g>
<g id="GhJMJ37" transform="rotate(169.82)"><use href="#S" x="289"/><text class="f" x="-304" transform="rotate(180)">GhJMJ37</text></g>
<g id="GrJMJ6" transform="rotate(172.18)"><use href="#T" x="289"/><text class="f" x="-304" transform="rotate(180)">GrJMJ6</text></g>
<g id="AtJMJ17" transform="rotate(174.54)"><use href="#D" x="289"/><text class="f" x="-304" transform="rotate(180)">AtJMJ17</text></g>
<g id="GhJMJ8" transform="rotate(176.91)"><use href="#S" x="289"/><text class="f" x="-304" transform="rotate(180)">GhJMJ8</text></g>
<g id="GaJMJ11" transform="rotate(179.27)"><use href="#C" x="289"/><text class="f" x="-304" transform="rotate(180)">GaJMJ11</text></g>
<g id="GhJMJ36" transform="rotate(181.63)"><use href="#S" x="289"/><text class="f" x="-304" transform="rotate(180)">GhJMJ36</text></g>
<g id="GrJMJ5" transform="rotate(183.99)"><use href="#T" x="289"/><text class="f" x="-304" transform="rotate(180)">GrJMJ5</text></g>
<g id="GhJMJ20" transform="rotate(186.35)"><use href="#S" x="289"/><text class="f" x="-304" transform="rotate(180)">GhJMJ20</text></g>
<g id="GaJMJ24" transform="rotate(188.72)"><use href="#C" x="289"/><text class="f" x="-304" transform="rotate(180)">GaJMJ24</text></g>
<g id="GhJMJ46" transform="rotate(191.08)"><use href="#S" x="289"/><text class="f" x="-304" transform="rotate(180)">GhJMJ46</text></g>
<g id="GrJMJ14" transform="rotate(193.44)"><use href="#T" x="289"/><text class="f" x="-304" transform="rotate(180)">GrJMJ14</text></g>
<g id="GhJMJ27" transform="rotate(195.8)"><use href="#S" x="289"/><text class="f" x="-304" transform="rotate(180)">GhJMJ27</text></g>
<g id="GaJMJ2" transform="rotate(198.16)"><use href="#C" x="289"/><text class="f" x="-304" transform="rotate(180)">GaJMJ2</text></g>
<g id="GhJMJ28" transform="rotate(200.53)"><use href="#S" x="289"/><text class="f" x="-304" transform="rotate(180)">GhJMJ28</text></g>
<g id="GrJMJ4" transform="rotate(202.89)"><use href="#T" x="289"/><text class="f" x="-304" transform="rotate(180)">GrJMJ4</text></g>
<g id="AtJMJ13" transform="rotate(205.25)"><use href="#D" x="289"/><text class="f" x="-304" transform="rotate(180)">AtJMJ13</text></g>
<g id="OsJMJ706" transform="rotate(207.61)"><use href="#G" x="289"/><text class="f" x="-304" transform="rotate(180)">OsJMJ706</text></g>
<g id="OsJMJ707" transform="rotate(209.97)"><use href="#G" x="289"/><text class="f" x="-304" transform="rotate(180)">OsJMJ707</text></g>
<g id="GhJMJ6" transform="rotate(212.34)"><use href="#S" x="289"/><text class="f" x="-304" transform="rotate(180)">GhJMJ6</text></g>
<g id="GaJMJ7" transform="rotate(214.7)"><use href="#C" x="289"/><text class="f" x="-304" transform="rotate(180)">GaJMJ7</text></g>
<g id="GhJMJ31" transform="rotate(217.06)"><use href="#S" x="289"/><text class="f" x="-304" transform="rotate(180)">GhJMJ31</text></g>
<g id="GrJMJ19" transform="rotate(219.42)"><use href="#T" x="289"/><text class="f" x="-304" transform="rotate(180)">GrJMJ19</text></g>
<g id="AtJMJ11" transform="rotate(221.78)"><use href="#D" x="289"/><text class="f" x="-304" transform="rotate(180)">AtJMJ11</text></g>
<g id="OsJMJ701" transform="rotate(224.15)"><use href="#G" x="289"/><text class="f" x="-304" transform="rotate(180)">OsJMJ701</text></g>
<g id="OsJMJ705" transform="rotate(226.51)"><use href="#G" x="289"/><text class="f" x="-304" transform="rotate(180)">OsJMJ705</text></g>
<g id="OsJMJ702" transform="rotate(228.87)"><use href="#G" x="289"/><text class="f" x="-304" transform="rotate(180)">OsJMJ702</text></g>
<g id="AtJMJ12" transform="rotate(231.23)"><use href="#D" x="289"/><text class="f" x="-304" transform="rotate(180)">AtJMJ12</text></g>
<g id="GhJMJ7" transform="rotate(233.59)"><use href="#S" x="289"/><text class="f" x="-304" transform="rotate(180)">GhJMJ7</text></g>
<g id="GaJMJ9" transform="rotate(235.96)"><use href="#C" x="289"/><text class="f" x="-304" transform="rotate(180)">GaJMJ9</text></g>
<g id="GhJMJ35" transform="rotate(238.32)"><use href="#S" x="289"/><text class="f" x="-304" transform="rotate(180)">GhJMJ35</text></g>
<g id="GrJMJ1" transform="rotate(240.68)"><use href="#T" x="289"/><text class="f" x="-304" transform="rotate(180)">GrJMJ1</text></g>
<g id="GhJMJ13" transform="rotate(243.04)"><use href="#S" x="289"/><text class="f" x="-304" transform="rotate(180)">GhJMJ13</text></g>
<g id="GaJMJ16" transform="rotate(245.4)"><use href="#C" x="289"/><text class="f" x="-304" transform="rotate(180)">GaJMJ16</text></g>
<g id="GhJMJ40" transform="rotate(247.77)"><use href="#S" x="289"/><text class="f" x="-304" transform="rotate(180)">GhJMJ40</text></g>
<g id="GrJMJ11" transform="rotate(250.13)"><use href="#T" x="289"/><text class="f" x="-304" transform="rotate(180)">GrJMJ11</text></g>
</g>

<g id="legend">
<rect x="43" y="802" width="13" height="13" fill="#ff0000"/>
<text class="lg" x="63" y="815">Gossypium hirsutum</text>
<polygon points="230,817 245,817 237.5,804" fill="#5dc43a"/>
<text class="lg" x="251" y="815">Gossypium arboreum</text>
<circle cx="47.5" cy="836" r="6.3" fill="#ffc000"/>
<text class="lg" x="60" y="841">Gossypium raimondii</text>
<polygon points="230,835 239,826 248,835 239,844" fill="#fff" stroke="#5aa9c9" stroke-width="1.3"/>
<text class="lg" x="252" y="841">Arabidopsis thaliana</text>
<polygon points="422.5,836 431.5,827 440.5,836 431.5,845" fill="#808080"/>
<text class="lg" x="443" y="841">Oryza sativa</text>
</g>
</svg>
